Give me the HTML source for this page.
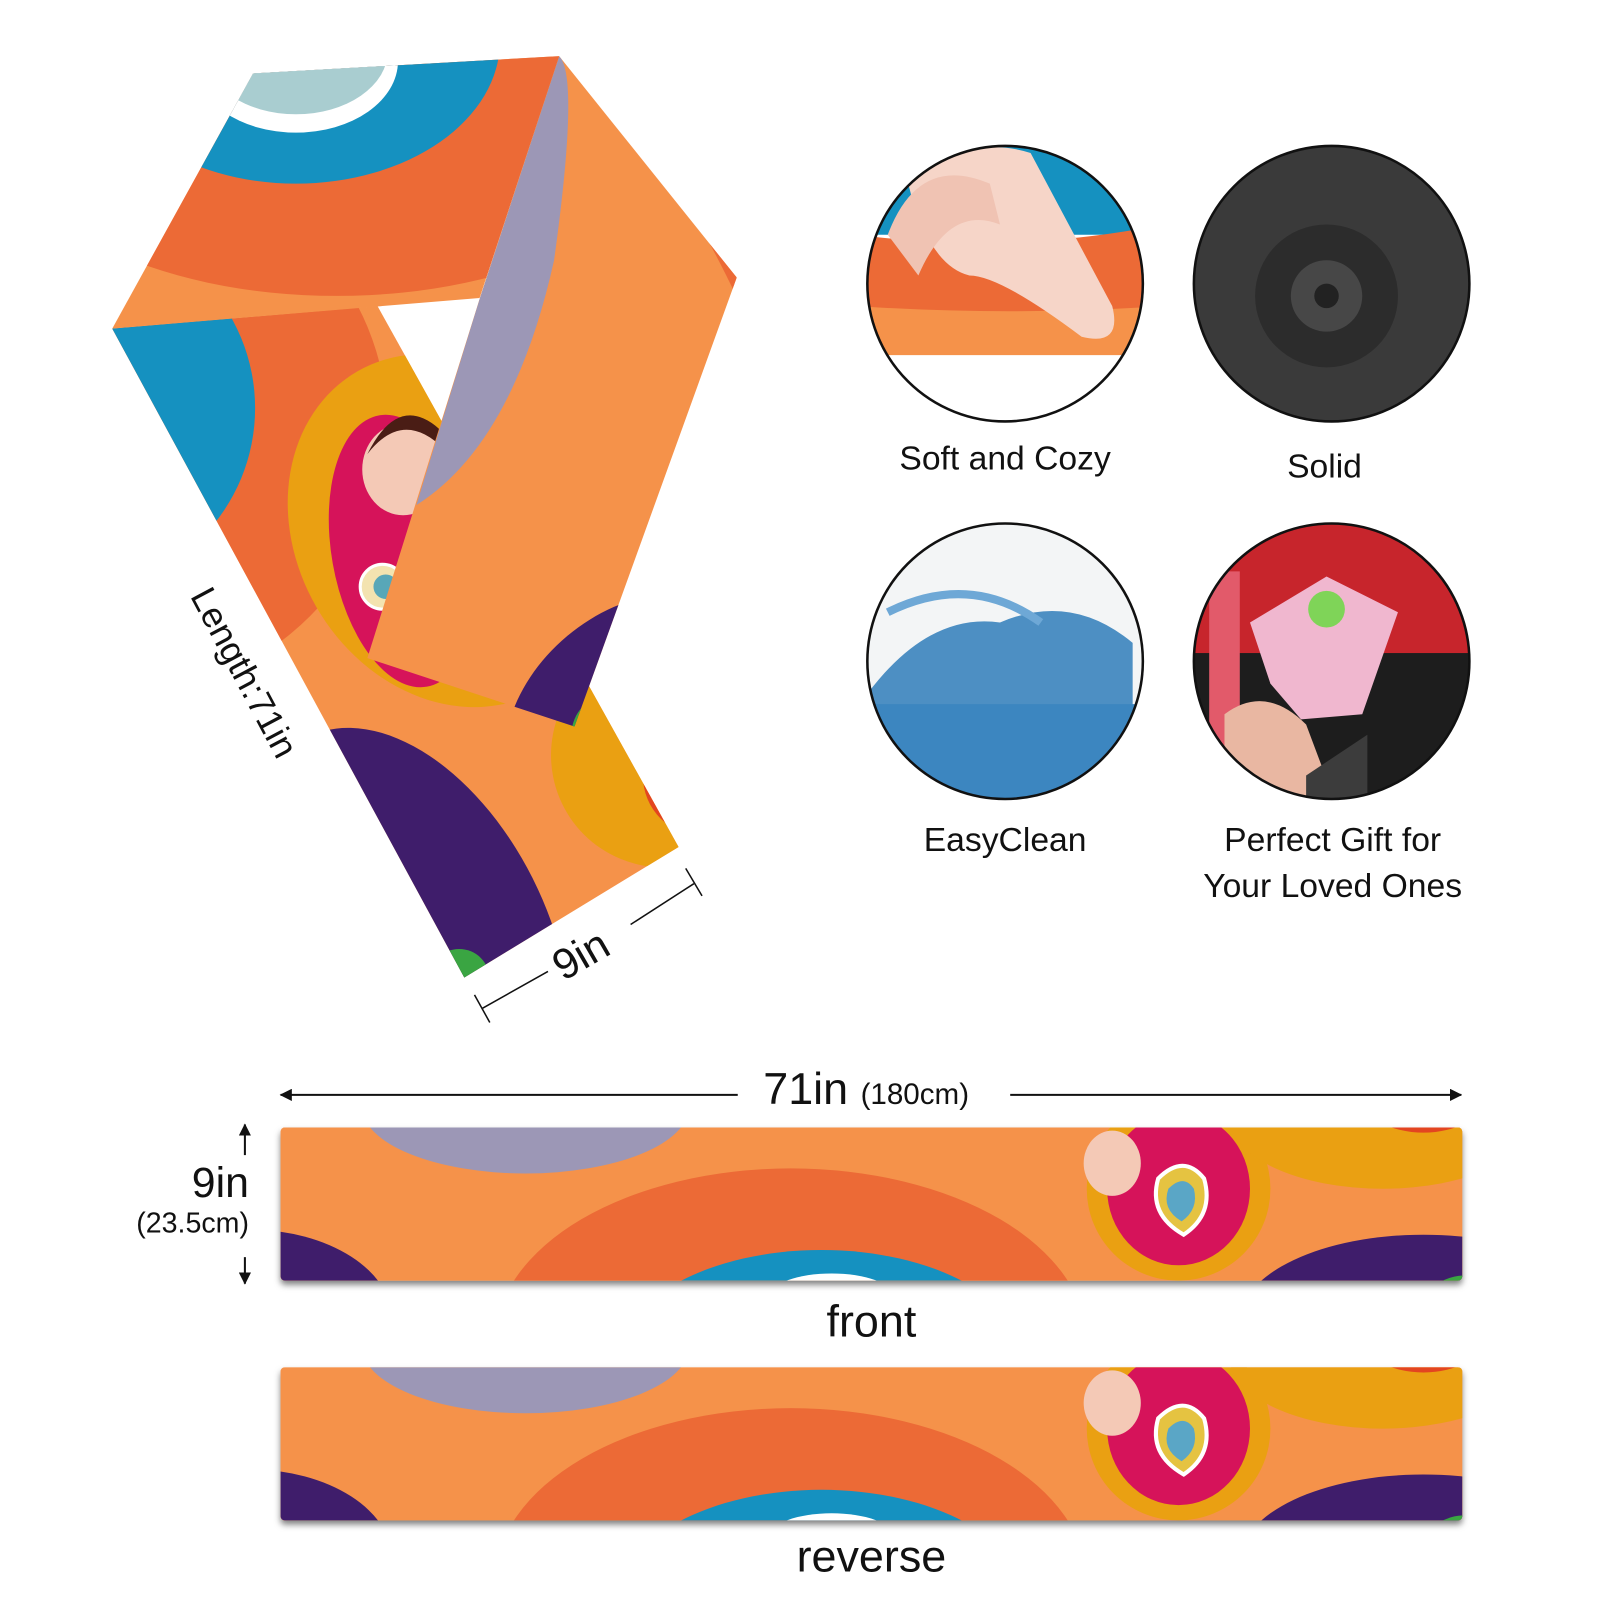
<!DOCTYPE html>
<html><head><meta charset="utf-8"><style>
html,body{margin:0;padding:0;background:#fff;width:1600px;height:1600px;overflow:hidden}
svg{display:block;overflow:hidden}
text{font-family:"Liberation Sans","DejaVu Sans",sans-serif;fill:#111}
</style></head><body>
<svg width="1600" height="1600" viewBox="0 0 1568 1568" xmlns="http://www.w3.org/2000/svg">
<defs>
<clipPath id="cL"><polygon points="110,322 370,300 665,830 455,958"/></clipPath>
<clipPath id="cR"><polygon points="548,55 722,272 563,712 360,645 470,293"/></clipPath>
<clipPath id="cT"><polygon points="248,72 548,55 470,292 110,322"/></clipPath>
<clipPath id="c1"><circle cx="985" cy="278" r="135"/></clipPath>
<clipPath id="c2"><circle cx="1305" cy="278" r="135"/></clipPath>
<clipPath id="c3"><circle cx="985" cy="648" r="135"/></clipPath>
<clipPath id="c4"><circle cx="1305" cy="648" r="135"/></clipPath>
<clipPath id="bF"><rect x="275" y="1105" width="1158" height="150" rx="4"/></clipPath>
<clipPath id="bR"><rect x="275" y="1340" width="1158" height="150" rx="4"/></clipPath>
<filter id="sh" x="-5%" y="-20%" width="110%" height="140%"><feDropShadow dx="0" dy="4" stdDeviation="3" flood-color="#000" flood-opacity="0.5"/></filter>
<marker id="ah" markerWidth="12" markerHeight="12" refX="11" refY="6" orient="auto" markerUnits="userSpaceOnUse" viewBox="0 0 12 12"><path d="M0,0 L12,6 L0,12 z" fill="#111"/></marker>
<g id="band">
<rect x="0" y="0" width="1158" height="150" fill="#f5924a"/>
<ellipse cx="240" cy="-20" rx="160" ry="65" fill="#9c97b6"/>
<ellipse cx="-30" cy="190" rx="140" ry="90" fill="#3f1d6b"/>
<ellipse cx="500" cy="210" rx="290" ry="170" fill="#ec6a36"/>
<ellipse cx="530" cy="230" rx="200" ry="110" fill="#1591c0"/>
<ellipse cx="540" cy="165" rx="60" ry="22" fill="#fff"/>
<ellipse cx="540" cy="175" rx="52" ry="18" fill="#a9cdd0"/>
<ellipse cx="880" cy="60" rx="90" ry="90" fill="#eaa012"/>
<ellipse cx="880" cy="60" rx="70" ry="75" fill="#d6135a"/>
<ellipse cx="815" cy="35" rx="28" ry="32" fill="#f4c9b6"/>
<path d="M860,50 q25,-25 45,0 q10,35 -20,55 q-35,-20 -25,-55z" fill="#e5c341" stroke="#fff" stroke-width="4"/>
<path d="M870,60 q15,-15 25,0 q5,20 -12,32 q-20,-12 -13,-32z" fill="#5aa6c6"/>
<ellipse cx="1080" cy="-10" rx="150" ry="70" fill="#eaa012"/>
<ellipse cx="1120" cy="-30" rx="60" ry="35" fill="#e34520"/>
<ellipse cx="1120" cy="190" rx="180" ry="85" fill="#3f1d6b"/>
<ellipse cx="1160" cy="200" rx="50" ry="55" fill="#3aa542"/>
</g>
</defs>

<g clip-path="url(#cL)">
<rect x="0" y="250" width="800" height="800" fill="#f5924a"/>
<circle cx="120" cy="420" r="260" fill="#ec6a36"/>
<circle cx="70" cy="400" r="180" fill="#1591c0"/>
<ellipse cx="440" cy="520" rx="150" ry="180" fill="#eaa012" transform="rotate(-30 440 520)"/>
<ellipse cx="395" cy="540" rx="70" ry="135" fill="#d6135a" transform="rotate(-10 395 540)"/>
<ellipse cx="395" cy="460" rx="40" ry="45" fill="#f4c9b6"/>
<path d="M360,445 q35,-45 75,-5 l-5,-20 q-40,-35 -70,25z" fill="#4a1d15"/>
<circle cx="375" cy="575" r="22" fill="#f3e3b0" stroke="#fff" stroke-width="3"/>
<circle cx="378" cy="575" r="12" fill="#58a7b8"/>
<ellipse cx="400" cy="930" rx="140" ry="230" fill="#3f1d6b" transform="rotate(-25 400 930)"/>
<circle cx="450" cy="960" r="30" fill="#3aa542"/>
<circle cx="650" cy="740" r="110" fill="#eaa012"/>
<circle cx="690" cy="760" r="60" fill="#e34520"/>
</g>
<g clip-path="url(#cR)">
<rect x="300" y="40" width="450" height="700" fill="#f5924a"/>
<path d="M548,55 q120,90 210,320 L760,40z" fill="#ec6a36"/>
<path d="M470,293 L548,55 q20,20 -5,200 q-40,180 -135,240z" fill="#9c97b6"/>
<ellipse cx="620" cy="700" rx="140" ry="100" fill="#3f1d6b" transform="rotate(-40 620 700)"/>
<circle cx="600" cy="720" r="40" fill="#3aa542"/>
</g>
<g clip-path="url(#cT)">
<rect x="100" y="40" width="460" height="300" fill="#f5924a"/>
<ellipse cx="330" cy="120" rx="330" ry="170" fill="#ec6a36"/>
<ellipse cx="290" cy="40" rx="200" ry="140" fill="#1591c0"/>
<ellipse cx="290" cy="60" rx="100" ry="70" fill="#fff"/>
<ellipse cx="290" cy="50" rx="90" ry="62" fill="#a9cdd0"/>
</g>

<text x="0" y="0" font-size="35" transform="translate(186,584) rotate(62)">Length:71in</text>
<g stroke="#111" stroke-width="1.5" fill="none">
<line x1="465" y1="975" x2="480" y2="1002"/>
<line x1="672" y1="851" x2="688" y2="878"/>
<line x1="473" y1="988" x2="537" y2="952"/>
<line x1="618" y1="906" x2="680" y2="866"/>
</g>
<text font-size="42" transform="translate(552,962) rotate(-30)">9in</text>

<g clip-path="url(#c1)">
<rect x="840" y="130" width="300" height="300" fill="#fff"/>
<path d="M840,130 h300 v100 h-300z" fill="#1591c0"/>
<path d="M840,230 q150,20 300,-10 v120 h-300z" fill="#ec6a36"/>
<path d="M840,300 q150,10 300,0 v48 h-300z" fill="#f5924a"/>
<path d="M890,180 q60,-50 120,-30 l80,150 q10,40 -30,30 q-80,-60 -110,-60 q-40,-10 -60,-90z" fill="#f6d5c8"/>
<path d="M870,230 q30,-80 100,-50 l10,40 q-50,-20 -80,50z" fill="#f0c3b3"/>
</g>
<g clip-path="url(#c2)">
<rect x="1160" y="130" width="300" height="300" fill="#3a3a3a"/>
<circle cx="1300" cy="290" r="70" fill="#2c2c2c"/>
<circle cx="1300" cy="290" r="35" fill="#474747"/>
<circle cx="1300" cy="290" r="12" fill="#222"/>
</g>
<g clip-path="url(#c3)">
<rect x="840" y="500" width="300" height="300" fill="#f3f5f6"/>
<path d="M850,680 q60,-80 130,-70 q70,-30 130,20 v180 h-260z" fill="#4d8fc3"/>
<path d="M850,690 h270 v110 h-270z" fill="#3c86c0"/>
<path d="M870,600 q80,-40 150,10" stroke="#6ea8d6" stroke-width="8" fill="none"/>
</g>
<g clip-path="url(#c4)">
<rect x="1160" y="500" width="300" height="300" fill="#c7252c"/>
<rect x="1160" y="640" width="300" height="160" fill="#1d1d1d"/>
<path d="M1185,560 v180 h30 v-180z" fill="#e25a6a"/>
<polygon points="1225,610 1300,565 1370,600 1335,700 1275,705 1245,670" fill="#f0b7cf"/>
<circle cx="1300" cy="597" r="18" fill="#7fd458"/>
<path d="M1200,700 q40,-30 80,10 l30,80 h-110z" fill="#e9b7a2"/>
<path d="M1170,730 l60,40 v30 h-70z" fill="#3c3c3c"/>
<path d="M1280,760 l60,-40 v80 h-60z" fill="#3c3c3c"/>
</g>
<g fill="none" stroke="#111" stroke-width="2.5">
<circle cx="985" cy="278" r="135"/><circle cx="1305" cy="278" r="135"/>
<circle cx="985" cy="648" r="135"/><circle cx="1305" cy="648" r="135"/>
</g>
<text x="985" y="460" font-size="33" text-anchor="middle">Soft and Cozy</text>
<text x="1298" y="468" font-size="33" text-anchor="middle">Solid</text>
<text x="985" y="834" font-size="33" text-anchor="middle">EasyClean</text>
<text x="1306" y="834" font-size="33" text-anchor="middle">Perfect Gift for</text>
<text x="1306" y="879" font-size="33" text-anchor="middle">Your Loved Ones</text>

<line x1="723" y1="1073" x2="275" y2="1073" stroke="#111" stroke-width="2" marker-end="url(#ah)"/>
<line x1="990" y1="1073" x2="1432" y2="1073" stroke="#111" stroke-width="2" marker-end="url(#ah)"/>
<text x="748" y="1082" font-size="44">71in <tspan font-size="29">(180cm)</tspan></text>
<line x1="240" y1="1132" x2="240" y2="1102" stroke="#111" stroke-width="2" marker-end="url(#ah)"/>
<line x1="240" y1="1232" x2="240" y2="1258" stroke="#111" stroke-width="2" marker-end="url(#ah)"/>
<text x="244" y="1173" font-size="42" text-anchor="end">9in</text>
<text x="244" y="1208" font-size="28" text-anchor="end">(23.5cm)</text>

<g filter="url(#sh)"><rect x="275" y="1105" width="1158" height="150" rx="4" fill="#f5924a"/></g>
<g clip-path="url(#bF)"><use href="#band" x="275" y="1105"/></g>
<text x="854" y="1310" font-size="44" text-anchor="middle">front</text>
<g filter="url(#sh)"><rect x="275" y="1340" width="1158" height="150" rx="4" fill="#f5924a"/></g>
<g clip-path="url(#bR)"><use href="#band" x="275" y="1340"/></g>
<text x="854" y="1540" font-size="44" text-anchor="middle">reverse</text>
</svg>
</body></html>
